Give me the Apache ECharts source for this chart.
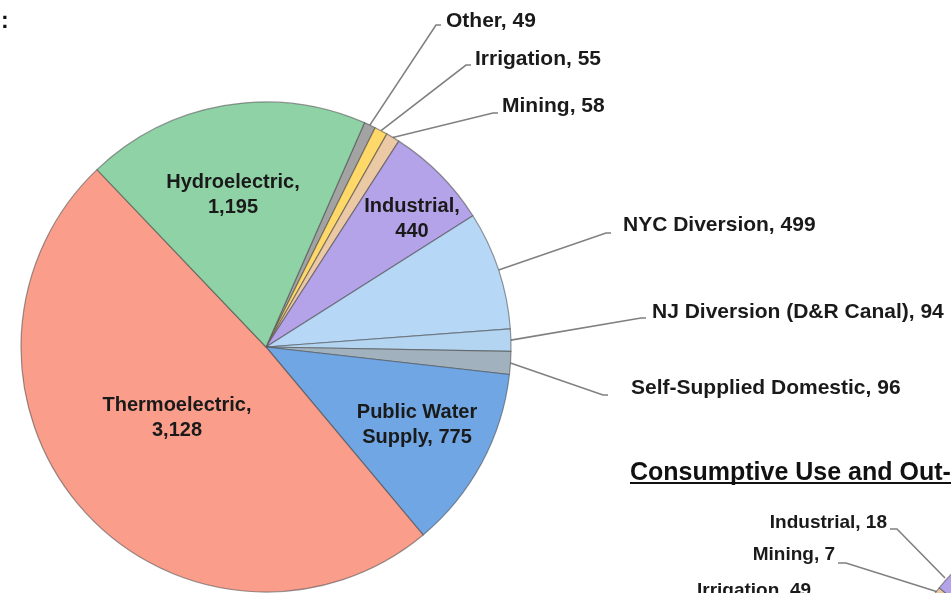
<!DOCTYPE html>
<html>
<head>
<meta charset="utf-8">
<script src="https://cdn.jsdelivr.net/npm/echarts@6/dist/echarts.min.js"></script>
<style>
html,body{margin:0;padding:0;background:#fff;}
#chart{width:951px;height:593px;}
</style>
</head>
<body>
<div id="chart"></div>
<script>
// ---- Data ----
const categories = ['Other', 'Irrigation', 'Mining', 'Industrial', 'NYC Diversion',
  'NJ Diversion (D&R Canal)', 'Self-Supplied Domestic', 'Public Water Supply',
  'Thermoelectric', 'Hydroelectric'];
const values = [49, 55, 58, 440, 499, 94, 96, 775, 3128, 1195];

const consumptiveCategories = ['Irrigation', 'Mining', 'Industrial'];
const consumptiveValues = [49, 7, 18];

const mainTitle = 'Consumptive Use and Out-of-Basin Diversions';

// ---- Styling / layout ----
const colors = {
  'Other': '#a3a3a3',
  'Irrigation': '#ffd86a',
  'Mining': '#ebc9a5',
  'Industrial': '#b4a3e8',
  'NYC Diversion': '#b6d8f6',
  'NJ Diversion (D&R Canal)': '#b3d5f2',
  'Self-Supplied Domestic': '#a2b1be',
  'Public Water Supply': '#6fa6e3',
  'Thermoelectric': '#fa9e8b',
  'Hydroelectric': '#8fd2a6'
};
const insideNames = ['Industrial', 'Public Water Supply', 'Thermoelectric', 'Hydroelectric'];
const insideText = {
  'Industrial': 'Industrial,\n440',
  'Public Water Supply': 'Public Water\nSupply, 775',
  'Thermoelectric': 'Thermoelectric,\n3,128',
  'Hydroelectric': 'Hydroelectric,\n1,195'
};
// label anchor positions (x, y) and label-line ends
const labelPos = {
  'Other': [446, 21, 441, 25],
  'Irrigation': [475, 59, 471, 65],
  'Mining': [502, 106, 498, 113],
  'NYC Diversion': [623, 225, 611, 233],
  'NJ Diversion (D&R Canal)': [652, 312, 646, 318],
  'Self-Supplied Domestic': [631, 388, 608, 395],
  'Industrial': [412, 219],
  'Public Water Supply': [417, 425],
  'Thermoelectric': [177, 418],
  'Hydroelectric': [233, 195]
};
const label2Pos = {
  'Industrial': [887, 523, 'right', [[945, 578], [897, 529], [890, 529]]],
  'Mining': [835, 555, 'right', [[938, 592], [846, 563], [838, 563]]],
  'Irrigation': [697, 591, 'left', null]
};
const consColors = {'Irrigation': '#ffd86a', 'Mining': '#ebc9a5', 'Industrial': '#b4a3e8'};

function fmt(v) { return v.toLocaleString('en-US'); }

const mainData = categories.map((name, i) => {
  const inside = insideNames.indexOf(name) >= 0;
  return {
    name: name,
    value: values[i],
    itemStyle: {color: colors[name]},
    label: inside ? {position: 'inside', formatter: insideText[name], lineHeight: 25, fontSize: 20}
                  : {position: 'outside', formatter: name + ', ' + fmt(values[i]), fontSize: 21},
    labelLine: {show: !inside}
  };
});

const consData = consumptiveCategories.map((name, i) => ({
  name: name,
  value: consumptiveValues[i],
  itemStyle: {color: consColors[name]},
  label: {formatter: name + ', ' + fmt(consumptiveValues[i])},
  labelLine: {show: !!label2Pos[name][3]}
}));

const chart = echarts.init(document.getElementById('chart'), null, {renderer: 'canvas'});
const FONT = '"Liberation Sans", Arial, sans-serif';

chart.setOption({
  backgroundColor: '#ffffff',
  animation: false,
  title: {
    text: mainTitle,
    left: 625,
    top: 456,
    textStyle: {fontFamily: FONT, fontWeight: 'bold', fontSize: 25, color: '#111'}
  },
  graphic: [
    {type: 'text', left: 1, top: 10, style: {text: ':', font: 'bold 23px ' + FONT, fill: '#111'}},
    {type: 'line', shape: {x1: 630, y1: 483, x2: 951, y2: 483}, style: {stroke: '#111', lineWidth: 2}}
  ],
  series: [
    {
      type: 'pie',
      center: [266, 347],
      radius: [0, 245],
      startAngle: 66.3,
      clockwise: true,
      avoidLabelOverlap: false,
      itemStyle: {borderColor: 'rgba(70,70,70,0.55)', borderWidth: 1.2},
      label: {
        show: true,
        fontFamily: FONT,
        fontWeight: 'bold',
        fontSize: 20,
        color: '#1a1a1a'
      },
      labelLine: {show: true, lineStyle: {color: '#808080', width: 1.6}},
      emphasis: {disabled: true},
      labelLayout: function (params) {
        const name = categories[params.dataIndex];
        const p = labelPos[name];
        if (insideNames.indexOf(name) >= 0) {
          return {x: p[0], y: p[1], align: 'center', verticalAlign: 'middle'};
        }
        const start = params.labelLinePoints ? params.labelLinePoints[0] : [p[2], p[3]];
        return {
          x: p[0], y: p[1], align: 'left', verticalAlign: 'middle',
          labelLinePoints: [start, [p[2] - 5, p[3]], [p[2], p[3]]]
        };
      },
      data: mainData
    },
    {
      type: 'pie',
      center: [1080, 700],
      radius: [0, 180],
      startAngle: 53.9,
      clockwise: true,
      avoidLabelOverlap: false,
      itemStyle: {borderColor: 'rgba(70,70,70,0.55)', borderWidth: 1.2},
      label: {
        show: true,
        position: 'outside',
        fontFamily: FONT,
        fontWeight: 'bold',
        fontSize: 19,
        color: '#1a1a1a'
      },
      labelLine: {show: true, lineStyle: {color: '#808080', width: 1.6}},
      emphasis: {disabled: true},
      labelLayout: function (params) {
        const name = consumptiveCategories[params.dataIndex];
        const p = label2Pos[name];
        const r = {x: p[0], y: p[1], align: p[2], verticalAlign: 'middle'};
        if (p[3]) r.labelLinePoints = p[3];
        return r;
      },
      data: consData
    }
  ]
});
</script>
</body>
</html>
